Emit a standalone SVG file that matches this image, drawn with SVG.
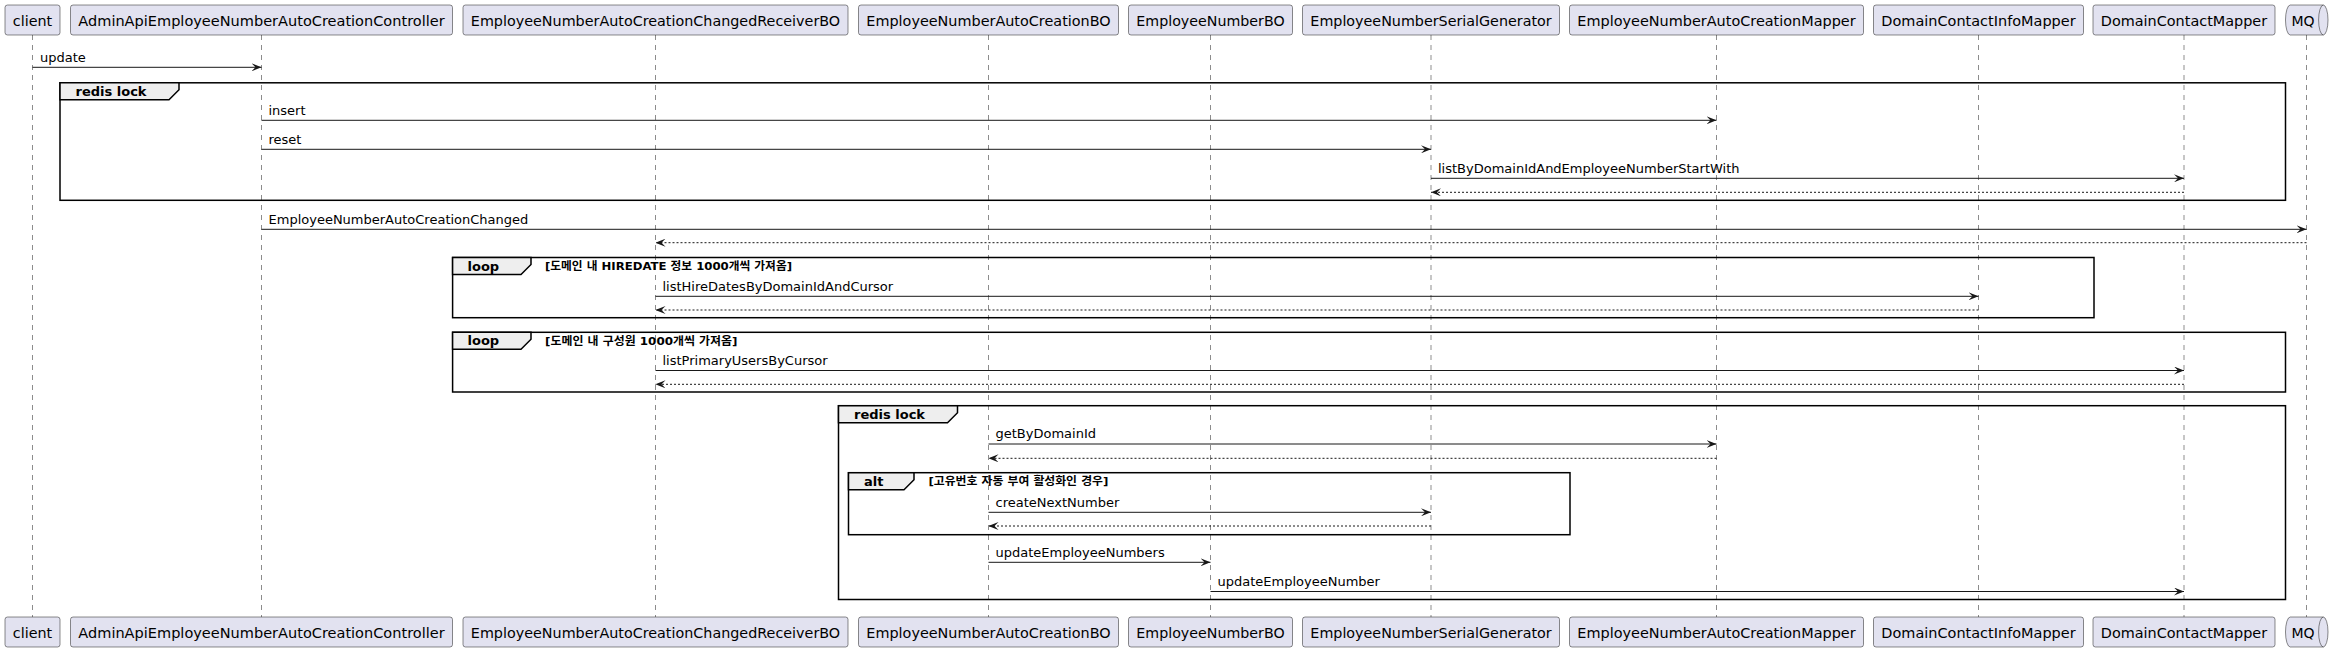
<svg xmlns="http://www.w3.org/2000/svg" width="2334" height="650" viewBox="0 0 2334 650">
<defs>
<style>
.pbox{fill:#E2E2F0;stroke:#181818;stroke-width:0.5;}
.ptxt{font-family:"DejaVu Sans","Noto Sans",sans-serif;font-size:14px;fill:#000000;text-anchor:middle;}
.life{stroke:#181818;stroke-width:0.5;stroke-dasharray:5,5;fill:none;}
.msg{stroke:#181818;stroke-width:1;fill:none;marker-end:url(#ah);}
.ret{stroke:#181818;stroke-width:1;fill:none;stroke-dasharray:2,2;marker-end:url(#ah);}
.mtxt{font-family:"DejaVu Sans","Noto Sans",sans-serif;font-size:13px;fill:#000000;}
.frame{fill:none;stroke:#000000;stroke-width:1.5;}
.tab{fill:#EEEEEE;stroke:#000000;stroke-width:1.5;}
.ftxt{font-family:"DejaVu Sans","Noto Sans",sans-serif;font-size:13px;font-weight:bold;fill:#000000;}
.ctxt{font-family:"DejaVu Sans","Noto Sans CJK KR",sans-serif;font-size:11px;font-weight:bold;fill:#000000;}
</style>
<marker id="ah" viewBox="0 0 10 8" refX="10" refY="4" markerWidth="10" markerHeight="8" markerUnits="userSpaceOnUse" orient="auto">
<path d="M0,0 L10,4 L0,8 L4,4 Z" fill="#181818"/>
</marker>
</defs>
<rect x="0" y="0" width="2334" height="650" fill="#FFFFFF"/>

<g id="lifelines">
<line class="life" x1="32.5" y1="35" x2="32.5" y2="617"/>
<line class="life" x1="261.5" y1="35" x2="261.5" y2="617"/>
<line class="life" x1="655.5" y1="35" x2="655.5" y2="617"/>
<line class="life" x1="988.5" y1="35" x2="988.5" y2="617"/>
<line class="life" x1="1210.5" y1="35" x2="1210.5" y2="617"/>
<line class="life" x1="1431" y1="35" x2="1431" y2="617"/>
<line class="life" x1="1716.5" y1="35" x2="1716.5" y2="617"/>
<line class="life" x1="1978.5" y1="35" x2="1978.5" y2="617"/>
<line class="life" x1="2184" y1="35" x2="2184" y2="617"/>
<line class="life" x1="2306.5" y1="35" x2="2306.5" y2="617"/>
</g>

<g id="frame-redis-lock-1">
<rect class="frame" x="60" y="82.8" width="2225.5" height="117.5"/>
<path class="tab" d="M60,82.8 H179 V89.8 L169,99.8 H60 Z"/>
<text class="ftxt" x="75.5" y="95.5">redis lock</text>
</g>

<g id="frame-loop-1">
<rect class="frame" x="452.6" y="257.5" width="1641.4" height="60.2"/>
<path class="tab" d="M452.6,257.5 H531 V264.5 L521,274.5 H452.6 Z"/>
<text class="ftxt" x="467.5" y="270.5">loop</text>
<text class="ctxt" x="545" y="270" textLength="247" lengthAdjust="spacingAndGlyphs">[도메인 내 HIREDATE 정보 1000개씩 가져옴]</text>
</g>

<g id="frame-loop-2">
<rect class="frame" x="452.6" y="332.3" width="1832.9" height="59.7"/>
<path class="tab" d="M452.6,332.3 H531 V339.3 L521,349.3 H452.6 Z"/>
<text class="ftxt" x="467.5" y="345.3">loop</text>
<text class="ctxt" x="545" y="344.8" textLength="192.5" lengthAdjust="spacingAndGlyphs">[도메인 내 구성원 1000개씩 가져옴]</text>
</g>

<g id="frame-redis-lock-2">
<rect class="frame" x="838.5" y="405.7" width="1447" height="193.8"/>
<path class="tab" d="M838.5,405.7 H957.5 V412.7 L947.5,422.7 H838.5 Z"/>
<text class="ftxt" x="854" y="418.7">redis lock</text>
</g>

<g id="frame-alt">
<rect class="frame" x="848.5" y="472.7" width="721.5" height="62"/>
<path class="tab" d="M848.5,472.7 H914 V479.7 L904,489.7 H848.5 Z"/>
<text class="ftxt" x="864" y="485.7">alt</text>
<text class="ctxt" x="928.4" y="485.2" textLength="180" lengthAdjust="spacingAndGlyphs">[고유번호 자동 부여 활성화인 경우]</text>
</g>

<g id="connectors">
<line class="msg" x1="32.5" y1="67.3" x2="261.5" y2="67.3"/>
<text class="mtxt" x="40" y="61.5">update</text>
<line class="msg" x1="261.5" y1="120.3" x2="1716.5" y2="120.3"/>
<text class="mtxt" x="268.5" y="114.5">insert</text>
<line class="msg" x1="261.5" y1="149.3" x2="1431" y2="149.3"/>
<text class="mtxt" x="268.5" y="143.5">reset</text>
<line class="msg" x1="1431" y1="178.3" x2="2184" y2="178.3"/>
<text class="mtxt" x="1438" y="172.5">listByDomainIdAndEmployeeNumberStartWith</text>
<line class="ret" x1="2184" y1="192.3" x2="1431" y2="192.3"/>
<line class="msg" x1="261.5" y1="229.3" x2="2306.5" y2="229.3"/>
<text class="mtxt" x="268.5" y="223.5">EmployeeNumberAutoCreationChanged</text>
<line class="ret" x1="2306.5" y1="242.7" x2="655.5" y2="242.7"/>
<line class="msg" x1="655.5" y1="296.3" x2="1978.5" y2="296.3"/>
<text class="mtxt" x="662.5" y="290.5">listHireDatesByDomainIdAndCursor</text>
<line class="ret" x1="1978.5" y1="310" x2="655.5" y2="310"/>
<line class="msg" x1="655.5" y1="370.5" x2="2184" y2="370.5"/>
<text class="mtxt" x="662.5" y="364.7">listPrimaryUsersByCursor</text>
<line class="ret" x1="2184" y1="384.3" x2="655.5" y2="384.3"/>
<line class="msg" x1="988.5" y1="444" x2="1716.5" y2="444"/>
<text class="mtxt" x="995.5" y="438.2">getByDomainId</text>
<line class="ret" x1="1716.5" y1="458.3" x2="988.5" y2="458.3"/>
<line class="msg" x1="988.5" y1="512.3" x2="1431" y2="512.3"/>
<text class="mtxt" x="995.5" y="506.5">createNextNumber</text>
<line class="ret" x1="1431" y1="526" x2="988.5" y2="526"/>
<line class="msg" x1="988.5" y1="562.3" x2="1210.5" y2="562.3"/>
<text class="mtxt" x="995.5" y="556.5">updateEmployeeNumbers</text>
<line class="msg" x1="1210.5" y1="591.5" x2="2184" y2="591.5"/>
<text class="mtxt" x="1217.5" y="585.7">updateEmployeeNumber</text>
</g>

<g id="client">
<rect class="pbox" x="5" y="5" width="55" height="30" rx="2.5"/>
<text class="ptxt" x="32.5" y="25.5" textLength="39.3" lengthAdjust="spacingAndGlyphs">client</text>
<rect class="pbox" x="5" y="617" width="55" height="30" rx="2.5"/>
<text class="ptxt" x="32.5" y="637.5" textLength="39.3" lengthAdjust="spacingAndGlyphs">client</text>
</g>

<g id="AdminApiEmployeeNumberAutoCreationController">
<rect class="pbox" x="70.5" y="5" width="382" height="30" rx="2.5"/>
<text class="ptxt" x="261.5" y="25.5" textLength="366.3" lengthAdjust="spacingAndGlyphs">AdminApiEmployeeNumberAutoCreationController</text>
<rect class="pbox" x="70.5" y="617" width="382" height="30" rx="2.5"/>
<text class="ptxt" x="261.5" y="637.5" textLength="366.3" lengthAdjust="spacingAndGlyphs">AdminApiEmployeeNumberAutoCreationController</text>
</g>

<g id="EmployeeNumberAutoCreationChangedReceiverBO">
<rect class="pbox" x="463" y="5" width="385" height="30" rx="2.5"/>
<text class="ptxt" x="655.5" y="25.5" textLength="369.3" lengthAdjust="spacingAndGlyphs">EmployeeNumberAutoCreationChangedReceiverBO</text>
<rect class="pbox" x="463" y="617" width="385" height="30" rx="2.5"/>
<text class="ptxt" x="655.5" y="637.5" textLength="369.3" lengthAdjust="spacingAndGlyphs">EmployeeNumberAutoCreationChangedReceiverBO</text>
</g>

<g id="EmployeeNumberAutoCreationBO">
<rect class="pbox" x="858.5" y="5" width="260" height="30" rx="2.5"/>
<text class="ptxt" x="988.5" y="25.5" textLength="244.3" lengthAdjust="spacingAndGlyphs">EmployeeNumberAutoCreationBO</text>
<rect class="pbox" x="858.5" y="617" width="260" height="30" rx="2.5"/>
<text class="ptxt" x="988.5" y="637.5" textLength="244.3" lengthAdjust="spacingAndGlyphs">EmployeeNumberAutoCreationBO</text>
</g>

<g id="EmployeeNumberBO">
<rect class="pbox" x="1128.5" y="5" width="164" height="30" rx="2.5"/>
<text class="ptxt" x="1210.5" y="25.5" textLength="148.3" lengthAdjust="spacingAndGlyphs">EmployeeNumberBO</text>
<rect class="pbox" x="1128.5" y="617" width="164" height="30" rx="2.5"/>
<text class="ptxt" x="1210.5" y="637.5" textLength="148.3" lengthAdjust="spacingAndGlyphs">EmployeeNumberBO</text>
</g>

<g id="EmployeeNumberSerialGenerator">
<rect class="pbox" x="1302.5" y="5" width="257" height="30" rx="2.5"/>
<text class="ptxt" x="1431" y="25.5" textLength="241.3" lengthAdjust="spacingAndGlyphs">EmployeeNumberSerialGenerator</text>
<rect class="pbox" x="1302.5" y="617" width="257" height="30" rx="2.5"/>
<text class="ptxt" x="1431" y="637.5" textLength="241.3" lengthAdjust="spacingAndGlyphs">EmployeeNumberSerialGenerator</text>
</g>

<g id="EmployeeNumberAutoCreationMapper">
<rect class="pbox" x="1569.5" y="5" width="294" height="30" rx="2.5"/>
<text class="ptxt" x="1716.5" y="25.5" textLength="278.3" lengthAdjust="spacingAndGlyphs">EmployeeNumberAutoCreationMapper</text>
<rect class="pbox" x="1569.5" y="617" width="294" height="30" rx="2.5"/>
<text class="ptxt" x="1716.5" y="637.5" textLength="278.3" lengthAdjust="spacingAndGlyphs">EmployeeNumberAutoCreationMapper</text>
</g>

<g id="DomainContactInfoMapper">
<rect class="pbox" x="1873.5" y="5" width="210" height="30" rx="2.5"/>
<text class="ptxt" x="1978.5" y="25.5" textLength="194.3" lengthAdjust="spacingAndGlyphs">DomainContactInfoMapper</text>
<rect class="pbox" x="1873.5" y="617" width="210" height="30" rx="2.5"/>
<text class="ptxt" x="1978.5" y="637.5" textLength="194.3" lengthAdjust="spacingAndGlyphs">DomainContactInfoMapper</text>
</g>

<g id="DomainContactMapper">
<rect class="pbox" x="2093" y="5" width="182" height="30" rx="2.5"/>
<text class="ptxt" x="2184" y="25.5" textLength="166.3" lengthAdjust="spacingAndGlyphs">DomainContactMapper</text>
<rect class="pbox" x="2093" y="617" width="182" height="30" rx="2.5"/>
<text class="ptxt" x="2184" y="637.5" textLength="166.3" lengthAdjust="spacingAndGlyphs">DomainContactMapper</text>
</g>

<g id="MQ">
<path class="pbox" d="M2290.2,5 L2323.3,5 A4.7,15 0 0 1 2323.3,35 L2290.2,35 A4.7,15 0 0 1 2290.2,5 Z"/>
<path class="pbox" style="fill:none" d="M2323.3,5 A4.7,15 0 0 0 2323.3,35"/>
<text class="ptxt" x="2303" y="25.5">MQ</text>
<path class="pbox" d="M2290.2,617 L2323.3,617 A4.7,15 0 0 1 2323.3,647 L2290.2,647 A4.7,15 0 0 1 2290.2,617 Z"/>
<path class="pbox" style="fill:none" d="M2323.3,617 A4.7,15 0 0 0 2323.3,647"/>
<text class="ptxt" x="2303" y="637.5">MQ</text>
</g>
</svg>
